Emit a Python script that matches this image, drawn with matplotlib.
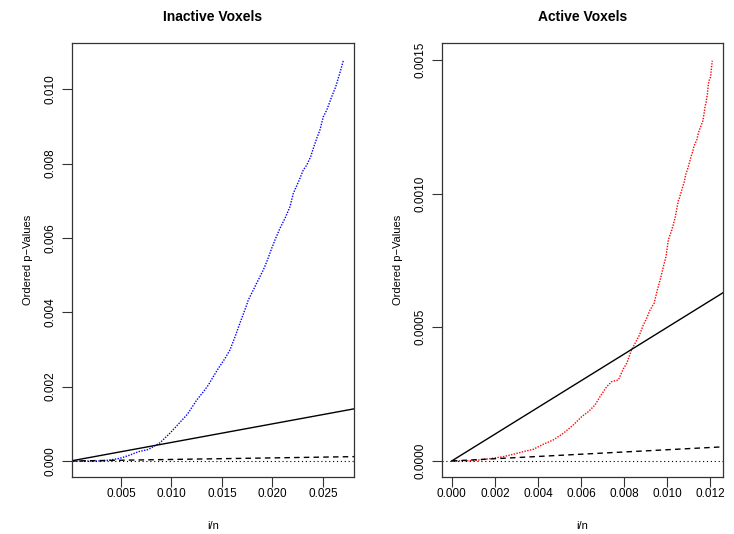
import matplotlib
matplotlib.use("Agg")
import matplotlib.pyplot as plt

plt.rcParams['font.family'] = ['Liberation Sans', 'DejaVu Sans']

# ordered p-values vs i/n
inactive_x = [0.00028, 0.00127, 0.00292, 0.00391, 0.00490, 0.00589, 0.00671, 0.00770,
              0.00886, 0.00985, 0.01084, 0.01158, 0.01250, 0.01315, 0.01364, 0.01414,
              0.01463, 0.01530, 0.01579, 0.01629, 0.01671, 0.01738, 0.01760, 0.01810,
              0.01859, 0.01909, 0.01943, 0.01992, 0.02025, 0.02074, 0.02124, 0.02173,
              0.02206, 0.02265, 0.02305, 0.02339, 0.02378, 0.02404, 0.02438, 0.02470,
              0.02503, 0.02537, 0.02586, 0.02626, 0.02668, 0.02701]
inactive_p = [0.0, 0.0, 0.0, 0.000027, 0.000073, 0.00016, 0.00025, 0.00031,
              0.00049, 0.00075, 0.00104, 0.00126, 0.00164, 0.00186, 0.00204, 0.00227,
              0.00249, 0.00276, 0.00299, 0.00334, 0.00366, 0.00415, 0.00433, 0.00460,
              0.00487, 0.00514, 0.00536, 0.00572, 0.00595, 0.00626, 0.00653, 0.00684,
              0.00720, 0.00756, 0.00783, 0.00796, 0.00819, 0.00841, 0.00868, 0.00891,
              0.00926, 0.00944, 0.00980, 0.01007, 0.01045, 0.01077]

active_x = [0.00007, 0.00100, 0.00178, 0.00239, 0.00286, 0.00332, 0.00379, 0.00425,
            0.00471, 0.00518, 0.00564, 0.00603, 0.00634, 0.00665, 0.00688, 0.00719,
            0.00742, 0.00773, 0.00796, 0.00812, 0.00823, 0.00835, 0.00851, 0.00871,
            0.00889, 0.00905, 0.00920, 0.00939, 0.00954, 0.00967, 0.00982, 0.00994,
            0.01005, 0.01021, 0.01036, 0.01052, 0.01056, 0.01065, 0.01072, 0.01079,
            0.01086, 0.01093, 0.01103, 0.01110, 0.01118, 0.01124, 0.01137, 0.01144,
            0.01152, 0.01160, 0.01165, 0.01171, 0.01175, 0.01180, 0.01186, 0.01191,
            0.01195, 0.01202, 0.01203, 0.01209]
active_p = [0.0, 0.0000011, 0.0000086, 0.0000161, 0.0000251, 0.0000348, 0.0000438, 0.0000625,
            0.0000786, 0.0001036, 0.0001347, 0.0001657, 0.0001844, 0.0002095, 0.0002405, 0.0002779,
            0.0002966, 0.0003030, 0.0003441, 0.0003655, 0.0003902, 0.0004178, 0.0004403, 0.0004713,
            0.0005087, 0.0005349, 0.0005648, 0.0005899, 0.0006397, 0.0006771, 0.0007268, 0.0007642,
            0.0008267, 0.0008641, 0.0009079, 0.0009763, 0.0009827, 0.0010074, 0.0010261, 0.0010448,
            0.0010725, 0.0010885, 0.0011158, 0.0011383, 0.0011570, 0.0011783, 0.0012008, 0.0012258,
            0.0012445, 0.0012606, 0.0012718, 0.0013006, 0.0013253, 0.0013403, 0.0013717, 0.0014128,
            0.0014252, 0.0014376, 0.0014563, 0.0014974]

q = 0.05            # BH threshold slope
q_by = 0.0042       # BY threshold slope
bonf = 5e-7         # Bonferroni level

inactive_xticks = [0.005, 0.010, 0.015, 0.020, 0.025]
inactive_yticks = [0.000, 0.002, 0.004, 0.006, 0.008, 0.010]
active_xticks = [0.000, 0.002, 0.004, 0.006, 0.008, 0.010, 0.012]
active_yticks = [0.0000, 0.0005, 0.0010, 0.0015]

fig = plt.figure(figsize=(7.34, 5.34), dpi=100)
ax1 = fig.add_axes([72 / 734, 1 - 477 / 534, 282 / 734, 434 / 534])
ax2 = fig.add_axes([441.7 / 734, 1 - 477 / 534, 281.6 / 734, 434 / 534])


def panel(ax, x, p, color, title, xticks, yticks, xfmt, yfmt, xlim, ylim):
    ax.plot(x, p, color=color, lw=1.0, linestyle=(0, (1, 1)))
    ax.plot([0, 1], [0, q], color='black', lw=1)
    ax.plot([0, 1], [0, q_by], color='black', lw=1, linestyle=(0, (4, 3)))
    ax.axhline(bonf, color='black', lw=0.8, linestyle=(0, (1, 2.5)))
    ax.set_xlim(*xlim)
    ax.set_ylim(*ylim)
    ax.set_xticks(xticks)
    ax.set_xticklabels([xfmt.format(v) for v in xticks])
    ax.set_yticks(yticks)
    ax.set_yticklabels([yfmt.format(v) for v in yticks], rotation=90, va='center')
    ax.tick_params(length=7, width=0.8, labelsize=8.5, color='#333333')
    ax.tick_params(axis='x', pad=1)
    ax.tick_params(axis='y', pad=4)
    for s in ax.spines.values():
        s.set_linewidth(0.9)
        s.set_color('#333333')
    ax.set_title(title, fontsize=10, fontweight='bold', pad=16)
    ax.set_xlabel('i/n', fontsize=8, va='center')
    ax.set_ylabel('Ordered p\u2212Values', fontsize=8, va='center')


panel(ax1, inactive_x, inactive_p, 'blue', 'Inactive Voxels',
      inactive_xticks, inactive_yticks, '{:.3f}', '{:.3f}',
      (0.00015, 0.02807), (-0.00043, 0.011246))
panel(ax2, active_x, active_p, 'red', 'Active Voxels',
      active_xticks, active_yticks, '{:.3f}', '{:.4f}',
      (-0.000464, 0.0126), (-0.00006, 0.0015636))

ax1.xaxis.set_label_coords(0.5, -0.113)
ax2.xaxis.set_label_coords(0.5, -0.113)
ax1.yaxis.set_label_coords(-0.156, 0.5)
ax2.yaxis.set_label_coords(-0.155, 0.5)

fig.savefig('out.png', dpi=100)
